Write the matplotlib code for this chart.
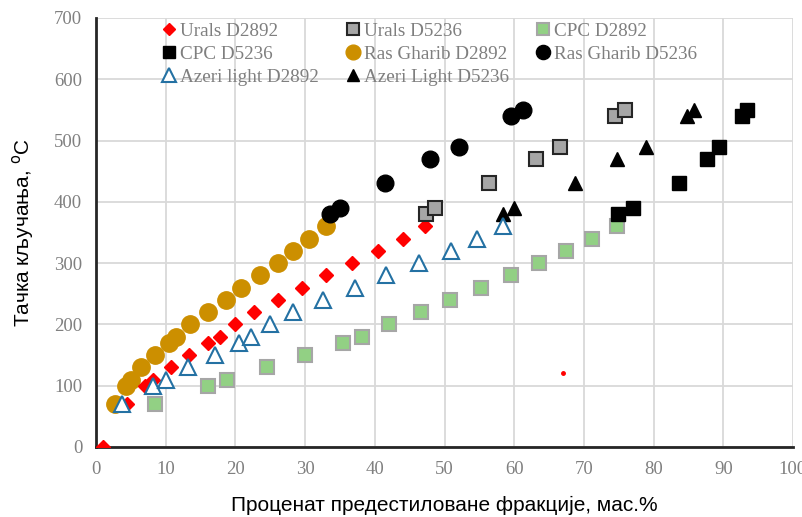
import numpy as np
import matplotlib.pyplot as plt

# Urals
urals_2892_x = [1, 4.4, 7.0, 8.2, 10.8, 13.4, 16.0, 17.8, 20.0, 22.6, 26.1, 29.6, 33.0, 36.7, 40.5, 44.0, 47.2]
urals_2892_y = [0, 70, 100, 110, 130, 150, 170, 180, 200, 220, 240, 260, 280, 300, 320, 340, 360]
urals_5236_x = [47.3, 48.7, 56.4, 63.2, 66.6, 74.4, 75.9]
urals_5236_y = [380, 390, 430, 470, 490, 540, 550]

# CPC
cpc_2892_x = [8.5, 16.1, 18.8, 24.5, 30.0, 35.4, 38.2, 42.1, 46.6, 50.8, 55.2, 59.5, 63.5, 67.4, 71.1, 74.8]
cpc_2892_y = [70, 100, 110, 130, 150, 170, 180, 200, 220, 240, 260, 280, 300, 320, 340, 360]
cpc_5236_x = [74.9, 77.1, 83.6, 87.7, 89.4, 92.7, 93.4]
cpc_5236_y = [380, 390, 430, 470, 490, 540, 550]

# Ras Gharib
rg_2892_x = [2.7, 4.3, 5.0, 6.5, 8.4, 10.5, 11.5, 13.5, 16.0, 18.7, 20.8, 23.5, 26.1, 28.3, 30.6, 33.0]
rg_2892_y = [70, 100, 110, 130, 150, 170, 180, 200, 220, 240, 260, 280, 300, 320, 340, 360]
rg_5236_x = [33.6, 35.0, 41.5, 47.9, 52.1, 59.5, 61.2]
rg_5236_y = [380, 390, 430, 470, 490, 540, 550]

# Azeri light
az_2892_x = [3.7, 8.2, 10.1, 13.2, 17.0, 20.5, 22.3, 25.0, 28.3, 32.6, 37.2, 41.6, 46.3, 50.9, 54.7, 58.4]
az_2892_y = [70, 100, 110, 130, 150, 170, 180, 200, 220, 240, 260, 280, 300, 320, 340, 360]
az_5236_x = [58.4, 60.0, 68.7, 74.8, 78.9, 84.8, 85.8]
az_5236_y = [380, 390, 430, 470, 490, 540, 550]

# stray point in the original
stray_x = [67.0]
stray_y = [120]

fig = plt.figure(figsize=(8.03, 5.17), dpi=100)
ax = fig.add_axes([0.1196, 0.1354, 0.8679, 0.8298])

h = {}
h['u1'], = ax.plot(urals_2892_x, urals_2892_y, 'D', color='#FF0000', ms=7, mec='#FF0000', ls='none', zorder=4)
h['u2'], = ax.plot(urals_5236_x, urals_5236_y, 's', color='#A6A6A6', ms=10, mec='#262626', mew=1.5, ls='none', zorder=4)
h['c1'], = ax.plot(cpc_2892_x, cpc_2892_y, 's', color='#92D084', ms=10, mec='#A6A6A6', mew=1.5, ls='none', zorder=3)
h['c2'], = ax.plot(cpc_5236_x, cpc_5236_y, 's', color='black', ms=10, ls='none', zorder=4)
h['r1'], = ax.plot(rg_2892_x, rg_2892_y, 'o', color='#CC8F00', ms=12.5, mec='#CC8F00', ls='none', zorder=3)
h['r2'], = ax.plot(rg_5236_x, rg_5236_y, 'o', color='black', ms=12, ls='none', zorder=4)
h['a1'], = ax.plot(az_2892_x, az_2892_y, '^', mfc='white', mec='#2471A3', mew=1.5, ms=11.5, ls='none', zorder=5)
h['a2'], = ax.plot(az_5236_x, az_5236_y, '^', color='black', ms=10, ls='none', zorder=4)
ax.plot(stray_x, stray_y, 'o', color='#FF0000', ms=2.5, ls='none')

ax.set_xlim(0, 100)
ax.set_ylim(0, 700)
ax.set_xticks(np.arange(0, 101, 10))
ax.set_yticks(np.arange(0, 701, 100))
ax.grid(True, color='#D9D9D9', lw=1.3)
ax.set_axisbelow(True)
for s in ['top', 'right']:
    ax.spines[s].set_visible(False)
for s in ['left', 'bottom']:
    ax.spines[s].set_color('#262626')
    ax.spines[s].set_linewidth(2)
ax.tick_params(length=0, pad=10, labelsize=13.5, labelcolor='#808080')
for lab in ax.get_xticklabels() + ax.get_yticklabels():
    lab.set_family('Liberation Serif')

ax.set_xlabel('Проценат предестиловане фракције, мас.%', family='Liberation Sans', fontsize=15, labelpad=13)
ax.set_ylabel('Тачка кључања, $^{\\mathrm{o}}$C', family='Liberation Sans', fontsize=15, labelpad=13)

order = ['u1', 'c2', 'a1', 'u2', 'r1', 'a2', 'c1', 'r2']
labels = {'u1': 'Urals D2892', 'u2': 'Urals D5236', 'c1': 'CPC D2892', 'c2': 'CPC D5236',
          'r1': 'Ras Gharib D2892', 'r2': 'Ras Gharib D5236',
          'a1': 'Azeri light D2892', 'a2': 'Azeri Light D5236'}
leg = ax.legend([h[k] for k in order], [labels[k] for k in order], ncol=3,
                loc='upper left', bbox_to_anchor=(0.066, 1.03), frameon=False,
                prop={'family': 'Liberation Serif', 'size': 13.8}, handletextpad=0.1,
                handlelength=1.0, columnspacing=1.25, labelspacing=0.3, markerscale=0.85)
for t in leg.get_texts():
    t.set_color('#7F7F7F')

fig.savefig('out.png', dpi=100)
